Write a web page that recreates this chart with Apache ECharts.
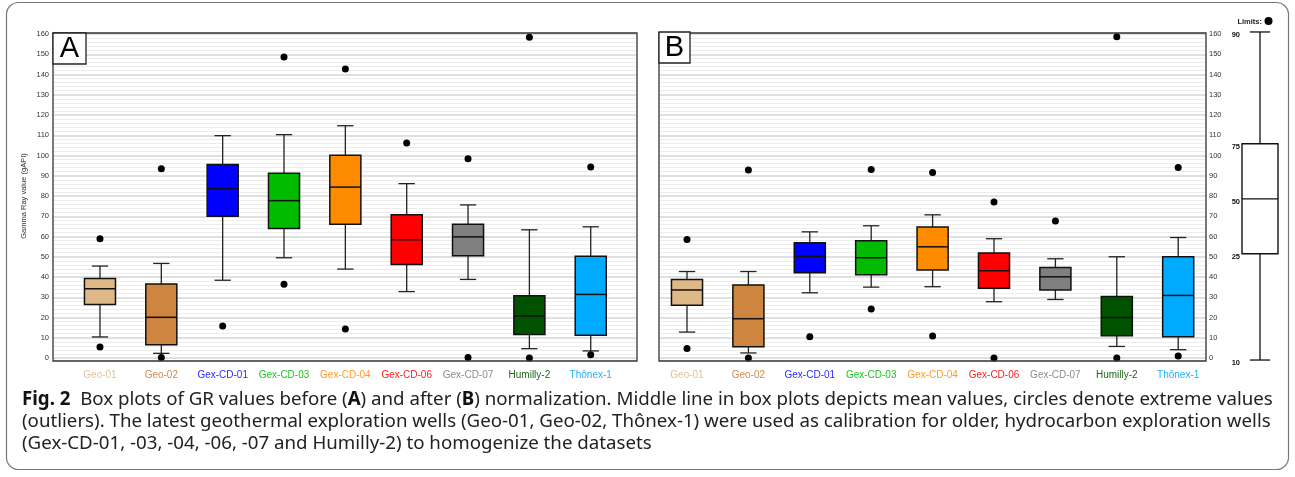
<!DOCTYPE html>
<html><head><meta charset="utf-8">
<script src="https://cdn.jsdelivr.net/npm/echarts@6/dist/echarts.min.js"></script>
<style>html,body{margin:0;padding:0;background:#fff}#c{width:1295px;height:477px}</style>
</head><body><div id="c"></div><script>
// ---------- data ----------
const categories = ['Geo-01','Geo-02','Gex-CD-01','Gex-CD-03','Gex-CD-04','Gex-CD-06','Gex-CD-07','Humilly-2','Thônex-1'];
const boxColors = ['#deb887','#cd853f','#0000ff','#00bb00','#ff8c00','#ff0000','#808080','#005200','#00aaff'];
const labelColors = ['#e3c49a','#d08c4a','#2a2aff','#22c522','#ff9a2a','#ff2020','#8c8c8c','#1f661f','#22b0ff'];
// [lower whisker, Q1, median, Q3, upper whisker]
const boxA = [
  [10.4, 26.4, 34.2, 39.3, 45.4],
  [2.3, 6.6, 20.1, 36.5, 46.7],
  [38.4, 70.0, 83.6, 95.6, 109.8],
  [49.5, 63.9, 77.7, 91.2, 110.3],
  [43.9, 66.0, 84.4, 100.1, 114.7],
  [32.8, 46.2, 58.4, 70.8, 86.1],
  [38.8, 50.5, 59.8, 66.0, 75.6],
  [4.6, 11.6, 20.7, 30.7, 63.3],
  [3.5, 11.2, 31.4, 50.3, 64.8]
];
const outliersA = [[58.9, 5.4],[93.4, 0.3],[15.8],[148.6, 36.4],[142.7, 14.3],[106.2],[98.4, 0.2],[158.4, 0],[94.3, 1.6]];
const boxB = [
  [12.8, 26.0, 33.6, 38.8, 42.7],
  [2.5, 5.6, 19.4, 36.0, 42.7],
  [32.2, 42.1, 50.2, 56.9, 62.3],
  [35.0, 41.1, 49.5, 57.9, 65.3],
  [35.2, 43.4, 54.9, 64.7, 70.7],
  [27.8, 34.5, 43.1, 51.8, 58.9],
  [28.9, 33.6, 40.1, 44.7, 49.0],
  [5.7, 11.0, 20.0, 30.4, 50.0],
  [4.1, 10.5, 30.9, 50.0, 59.5]
];
const outliersB = [[58.5, 4.7],[92.9, 0],[10.5],[93.1, 24.2],[91.6, 10.9],[77.0, 0],[67.6],[158.6, 0],[94.1, 1.0]];
const yMin = 0, yMax = 160, yStep = 10;
// limits key: positions of the 10/25/50/75/90 marks on the panel scale
const keyLevels = [-1, 51.5, 78.6, 105.8, 161];
const keyLabels = ['10','25','50','75','90'];
const yName = 'Gamma Ray value (gAPI)';
const captionLines = [
  '{b|Fig. 2}  Box plots of GR values before ({b|A}) and after ({b|B}) normalization. Middle line in box plots depicts mean values, circles denote extreme values',
  '(outliers). The latest geothermal exploration wells (Geo-01, Geo-02, Thônex-1) were used as calibration for older, hydrocarbon exploration wells',
  '(Gex-CD-01, -03, -04, -06, -07 and Humilly-2) to homogenize the datasets'
];

// ---------- chart ----------
const FONT = 'Liberation Sans, Arial, sans-serif';
const chart = echarts.init(document.getElementById('c'), null, {renderer:'canvas'});

function boxRender(colors){
  return function(params, api){
    const i = api.value(0);
    const v = [1,2,3,4,5].map(k => api.value(k));
    const band = api.size([1,0])[0];
    const hw = band*0.253, cw = band*0.133;
    const P = val => api.coord([i, val]);
    const x = P(v[2])[0];
    const yLo=P(v[0])[1], yQ1=P(v[1])[1], yMed=P(v[2])[1], yQ3=P(v[3])[1], yHi=P(v[4])[1];
    const ws = {stroke:'#222', lineWidth:1.3};
    return {type:'group', children:[
      {type:'line', shape:{x1:x,y1:yLo,x2:x,y2:yQ1}, style:ws},
      {type:'line', shape:{x1:x,y1:yQ3,x2:x,y2:yHi}, style:ws},
      {type:'line', shape:{x1:x-cw,y1:yLo,x2:x+cw,y2:yLo}, style:ws},
      {type:'line', shape:{x1:x-cw,y1:yHi,x2:x+cw,y2:yHi}, style:ws},
      {type:'rect', shape:{x:x-hw,y:yQ3,width:2*hw,height:yQ1-yQ3}, style:{fill:colors[params.dataIndex], stroke:'#111', lineWidth:1.5}},
      {type:'line', shape:{x1:x-hw,y1:yMed,x2:x+hw,y2:yMed}, style:{stroke:'#111',lineWidth:1.5}}
    ]};
  };
}
function keyRender(params, api){
  const v = [1,2,3,4,5].map(k => api.value(k));
  const band = api.size([1,0])[0];
  const hw = band*0.5, cw = band*0.28;
  const P = val => api.coord([0, val]);
  const x = P(v[2])[0];
  const ys = v.map(val => P(val)[1]);
  const ws = {stroke:'#111', lineWidth:1.3};
  const children = [
    {type:'line', shape:{x1:x,y1:ys[0],x2:x,y2:ys[1]}, style:ws},
    {type:'line', shape:{x1:x,y1:ys[3],x2:x,y2:ys[4]}, style:ws},
    {type:'line', shape:{x1:x-cw,y1:ys[0],x2:x+cw,y2:ys[0]}, style:ws},
    {type:'line', shape:{x1:x-cw,y1:ys[4],x2:x+cw,y2:ys[4]}, style:ws},
    {type:'rect', shape:{x:x-hw,y:ys[3],width:2*hw,height:ys[1]-ys[3]}, style:{fill:'#fff', stroke:'#111', lineWidth:1.4}},
    {type:'line', shape:{x1:x-hw,y1:ys[2],x2:x+hw,y2:ys[2]}, style:{stroke:'#111',lineWidth:1.4}}
  ];
  keyLabels.forEach((t, k) => {
    children.push({type:'text', style:{text:t, x:x-hw-2, y:ys[k]+3, textAlign:'right', textVerticalAlign:'middle', font:'bold 7.5px '+FONT, fill:'#111'}});
  });
  return {type:'group', children};
}

const gTop = 34, gH = 324;
const gridLinesAxis = (gi, pos, showLabels) => ({
  gridIndex: gi, type:'value', min:yMin, max:yMax, interval:yStep, position:pos,
  axisLine:{show:false}, axisTick:{show:false},
  axisLabel:{show:showLabels, fontSize:7.5, color:'#333', fontFamily:FONT, margin: pos==='right'?3:4},
  splitLine:{show:true, lineStyle:{color:'#d6d6d6', width:1.5}},
  minorTick:{show:false, splitNumber:5},
  minorSplitLine:{show:true, lineStyle:{color:'#ededed', width:1}}
});
const hiddenY = gi => ({gridIndex:gi, type:'value', min:yMin, max:yMax, show:false});
const catX = gi => ({
  gridIndex:gi, type:'category', data:categories,
  axisLine:{show:false}, axisTick:{show:false}, splitLine:{show:false},
  axisLabel:{fontSize:10, fontFamily:FONT, margin:12, interval:0, color:(val, idx) => labelColors[idx]}
});
const dotStyle = {color:'#000', opacity:1};

const option = {
  animation:false,
  backgroundColor:'#fff',
  grid:[
    {left:53, top:gTop, width:584, height:gH, outerBoundsMode:'none', containLabel:false},
    {left:69.3, top:gTop, width:552.1, height:gH, outerBoundsMode:'none', containLabel:false},
    {left:659, top:gTop, width:547, height:gH, outerBoundsMode:'none', containLabel:false},
    {left:656.3, top:gTop, width:552.6, height:gH, outerBoundsMode:'none', containLabel:false},
    {left:1242, top:gTop, width:36, height:gH, outerBoundsMode:'none', containLabel:false}
  ],
  xAxis:[
    {gridIndex:0, type:'value', show:false},
    catX(1),
    {gridIndex:2, type:'value', show:false},
    catX(3),
    {gridIndex:4, type:'category', data:['key'], show:false}
  ],
  yAxis:[
    Object.assign(gridLinesAxis(0,'left',true), {name:yName, nameLocation:'middle', nameGap:25, nameRotate:90,
      nameTextStyle:{fontSize:7.5, color:'#333', fontFamily:FONT}}),
    hiddenY(1),
    gridLinesAxis(2,'right',true),
    hiddenY(3),
    hiddenY(4)
  ],
  series:[
    {type:'custom', xAxisIndex:1, yAxisIndex:1, renderItem:boxRender(boxColors), clip:false, z:3,
      data: boxA.map((b,i)=>[i, ...b]), encode:{x:0, y:[1,2,3,4,5]}},
    {type:'scatter', xAxisIndex:1, yAxisIndex:1, symbolSize:7, itemStyle:dotStyle, z:4, clip:false,
      data: outliersA.flatMap((arr,i)=>arr.map(v=>[i,v]))},
    {type:'custom', xAxisIndex:3, yAxisIndex:3, renderItem:boxRender(boxColors), clip:false, z:3,
      data: boxB.map((b,i)=>[i, ...b]), encode:{x:0, y:[1,2,3,4,5]}},
    {type:'scatter', xAxisIndex:3, yAxisIndex:3, symbolSize:7, itemStyle:dotStyle, z:4, clip:false,
      data: outliersB.flatMap((arr,i)=>arr.map(v=>[i,v]))},
    {type:'custom', xAxisIndex:4, yAxisIndex:4, renderItem:keyRender, clip:false, z:3,
      data:[[0, ...keyLevels]], encode:{x:0, y:[1,2,3,4,5]}}
  ],
  graphic:[
    {type:'rect', shape:{x:6.5, y:2.5, width:1282, height:467, r:12}, style:{fill:'none', stroke:'#777', lineWidth:1.2}, z:0},
    {type:'rect', shape:{x:53, y:33, width:584, height:328}, style:{fill:'none', stroke:'#333', lineWidth:1.3}, z:5},
    {type:'rect', shape:{x:659, y:33, width:547, height:328}, style:{fill:'none', stroke:'#333', lineWidth:1.3}, z:5},
    {type:'rect', shape:{x:53, y:33, width:33, height:31}, style:{fill:'#fff', stroke:'#222', lineWidth:1.3}, z:6},
    {type:'text', style:{text:'A', x:69.5, y:49, textAlign:'center', textVerticalAlign:'middle', font:'29px '+FONT, fill:'#000'}, z:7},
    {type:'rect', shape:{x:659, y:32, width:31, height:31}, style:{fill:'#fff', stroke:'#222', lineWidth:1.3}, z:6},
    {type:'text', style:{text:'B', x:674.5, y:48, textAlign:'center', textVerticalAlign:'middle', font:'29px '+FONT, fill:'#000'}, z:7},
    {type:'text', style:{text:'Limits:', x:1262, y:22, textAlign:'right', textVerticalAlign:'middle', font:'bold 7.5px '+FONT, fill:'#222'}, z:7},
    {type:'circle', shape:{cx:1268.5, cy:21, r:4}, style:{fill:'#000'}, z:7},
    ...captionLines.map((t, k) => ({type:'text', z:7, style:{text:t, x:22, y:400 + k*22, textVerticalAlign:'middle',
      font:'18.7px Noto Sans', fill:'#222',
      rich:{b:{fontWeight:'bold', fontSize:18.7, fontFamily:'Noto Sans', fill:'#111'}}}}))
  ]
};
chart.setOption(option);
</script></body></html>
